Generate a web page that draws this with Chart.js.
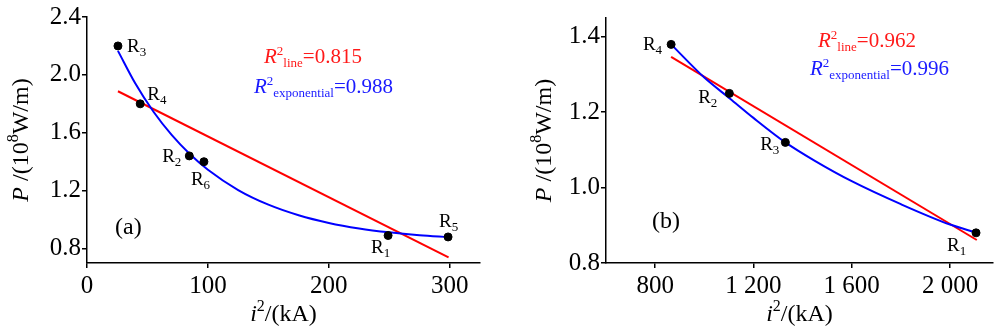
<!DOCTYPE html>
<html>
<head>
<meta charset="utf-8">
<script src="https://cdn.jsdelivr.net/npm/chart.js@4.4.1/dist/chart.umd.min.js"></script>
<style>
  body { margin: 0; background: #fff; }
  .wrap { display: flex; width: 1000px; height: 335px; }
  canvas { display: block; }
</style>
</head>
<body>
<div class="wrap">
  <canvas id="chartA" width="500" height="335"></canvas>
  <canvas id="chartB" width="500" height="335"></canvas>
</div>
<script>
// (a) measured points
const aX = [25.6, 44, 84.6, 96.7, 249, 298.6]
const aY = [2.2, 1.8, 1.44, 1.40, 0.89, 0.88]
const aNames = ['R3', 'R4', 'R2', 'R6', 'R1', 'R5']
// (a) linear fit, read at its two ends
const aLineX = [25.6, 299]
const aLineY = [1.887, 0.739]
// (a) exponential fit
const aCurveX = [25.6, 40, 55, 70, 85, 100, 125, 150, 175, 200, 225, 250, 275, 299]
const aCurveY = [2.166, 1.94, 1.745, 1.585, 1.453, 1.344, 1.204, 1.103, 1.03, 0.977, 0.939, 0.912, 0.892, 0.878]
const aXTicks = [0, 100, 200, 300]
const aYTicks = [0.8, 1.2, 1.6, 2.0, 2.4]
const aR2 = ['0.815', '0.988']

// (b)
const bX = [865, 1102, 1330, 2106]
const bY = [1.38, 1.25, 1.12, 0.88]
const bNames = ['R4', 'R2', 'R3', 'R1']
const bLineX = [865, 2109]
const bLineY = [1.347, 0.861]
const bCurveX = [865, 1000, 1105, 1200, 1330, 1450, 1600, 1800, 2000, 2106]
const bCurveY = [1.38, 1.292, 1.236, 1.185, 1.12, 1.071, 1.017, 0.956, 0.902, 0.881]
const bXTicks = [800, 1200, 1600, 2000]
const bYTicks = [0.8, 1.0, 1.2, 1.4]
const bR2 = ['0.962', '0.996']

const SERIF = 'Liberation Serif'
const RED = '#ff1a1a'
const BLUE = '#1a1aff'

Chart.defaults.font.family = SERIF
Chart.defaults.color = '#000'

const pts = (xs, ys) => xs.map((x, i) => ({ x: x, y: ys[i] }))

// draw a row of [text, font, dy] pieces
function rich(ctx, segs, x, y, align) {
    let w = 0
    segs.forEach(s => { ctx.font = s[1]; w += ctx.measureText(s[0]).width })
    let cx = align === 'center' ? x - w / 2 : align === 'right' ? x - w : x
    segs.forEach(s => {
        ctx.font = s[1]
        ctx.fillText(s[0], cx, y + (s[2] || 0))
        cx += ctx.measureText(s[0]).width
    })
}

const decor = {
    id: 'decor',
    afterDatasetsDraw(chart, args, o) {
        const ctx = chart.ctx
        const ca = chart.chartArea
        ctx.save()
        ctx.textBaseline = 'alphabetic'
        ctx.fillStyle = '#000'

        // axis titles
        const big = '24px ' + SERIF
        const bigI = 'italic 24px ' + SERIF
        const sup = '16px ' + SERIF
        rich(ctx, [['i', bigI], ['2', sup, -10], ['/(kA)', big]], (ca.left + ca.right) / 2, 321, 'center')
        ctx.save()
        ctx.translate(o.yTitleX, (ca.top + ca.bottom) / 2)
        ctx.rotate(-Math.PI / 2)
        rich(ctx, [['P', bigI], [' /(10', big], ['8', sup, -10], ['W/m)', big]], 0, 8, 'center')
        ctx.restore()

        // point labels
        const meta = chart.getDatasetMeta(0)
        o.names.forEach((n, i) => {
            const el = meta.data[i]
            const off = o.offsets[i]
            rich(ctx, [[n[0], '19px ' + SERIF], [n.slice(1), '13px ' + SERIF, 4]],
                el.x + off[0], el.y + off[1] + 6, off[2])
        })

        // panel tag
        ctx.font = '24px ' + SERIF
        ctx.fillText(o.tag, o.tagPos[0], o.tagPos[1])

        // R^2 notes
        const m = '21px ' + SERIF, mi = 'italic 21px ' + SERIF, s = '13px ' + SERIF
        ctx.fillStyle = RED
        rich(ctx, [['R', mi], ['2', s, -8], ['line', s, 4], ['=' + o.r2[0], m]], o.redPos[0], o.redPos[1], 'left')
        ctx.fillStyle = BLUE
        rich(ctx, [['R', mi], ['2', s, -8], ['exponential', s, 4], ['=' + o.r2[1], m]], o.bluePos[0], o.bluePos[1], 'left')
        ctx.restore()
    }
}

function axis(min, max, ticks, fmt, size, horizontal) {
    return {
        type: 'linear',
        min: min,
        max: max,
        afterBuildTicks: sc => { sc.ticks = ticks.map(v => ({ value: v })) },
        afterFit: sc => { if (horizontal) sc.height = size; else sc.width = size },
        grid: { display: true, drawOnChartArea: false, drawTicks: true, tickLength: 5, color: '#000', lineWidth: 1.5 },
        border: { display: true, color: '#000', width: 1.5 },
        ticks: {
            color: '#000',
            font: { family: SERIF, size: 25 },
            padding: horizontal ? 3 : 1,
            callback: fmt
        }
    }
}

function make(id, d) {
    return new Chart(document.getElementById(id), {
        type: 'scatter',
        data: {
            datasets: [{
                data: pts(d.x, d.y),
                backgroundColor: '#000',
                borderColor: '#000',
                pointRadius: 4,
                order: 0
            }, {
                data: pts(d.lx, d.ly),
                showLine: true,
                borderColor: '#ff0000',
                borderWidth: 2,
                pointRadius: 0,
                order: 2
            }, {
                data: pts(d.cx, d.cy),
                showLine: true,
                borderColor: '#0000ff',
                borderWidth: 2,
                pointRadius: 0,
                cubicInterpolationMode: 'monotone',
                order: 1
            }]
        },
        options: {
            responsive: false,
            animation: false,
            layout: { padding: d.pad },
            plugins: {
                legend: { display: false },
                tooltip: { enabled: false },
                decor: d.decor
            },
            scales: {
                x: axis(d.xr[0], d.xr[1], d.xt, d.xf, 72, true),
                y: axis(d.yr[0], d.yr[1], d.yt, v => v.toFixed(1), d.yw, false)
            }
        },
        plugins: [decor]
    })
}

const spaced = v => String(v).replace(/\B(?=(\d{3})+$)/g, ' ')

make('chartA', {
    x: aX, y: aY, lx: aLineX, ly: aLineY, cx: aCurveX, cy: aCurveY,
    xr: [0, 325], yr: [0.7, 2.4], xt: aXTicks, yt: aYTicks, xf: v => String(v),
    yw: 87, pad: { left: 0, right: 20, top: 17, bottom: 0 },
    decor: {
        yTitleX: 20, names: aNames, tag: '(a)', tagPos: [115, 234], r2: aR2,
        redPos: [264, 63], bluePos: [254, 93],
        offsets: [[9, 0, 'left'], [7, -10, 'left'], [-8, 0, 'right'], [-13, 17, 'left'], [-17, 11, 'left'], [-9, -16, 'left']]
    }
})

make('chartB', {
    x: bX, y: bY, lx: bLineX, ly: bLineY, cx: bCurveX, cy: bCurveY,
    xr: [600, 2175], yr: [0.8, 1.45], xt: bXTicks, yt: bYTicks, xf: spaced,
    yw: 106, pad: { left: 0, right: 7, top: 18, bottom: 0 },
    decor: {
        yTitleX: 43, names: bNames, tag: '(b)', tagPos: [152, 228], r2: bR2,
        redPos: [318, 47], bluePos: [310, 75],
        offsets: [[-9, 0, 'right'], [-12, 4, 'right'], [-6, 2, 'right'], [-29, 12, 'left']]
    }
})
</script>
</body>
</html>
